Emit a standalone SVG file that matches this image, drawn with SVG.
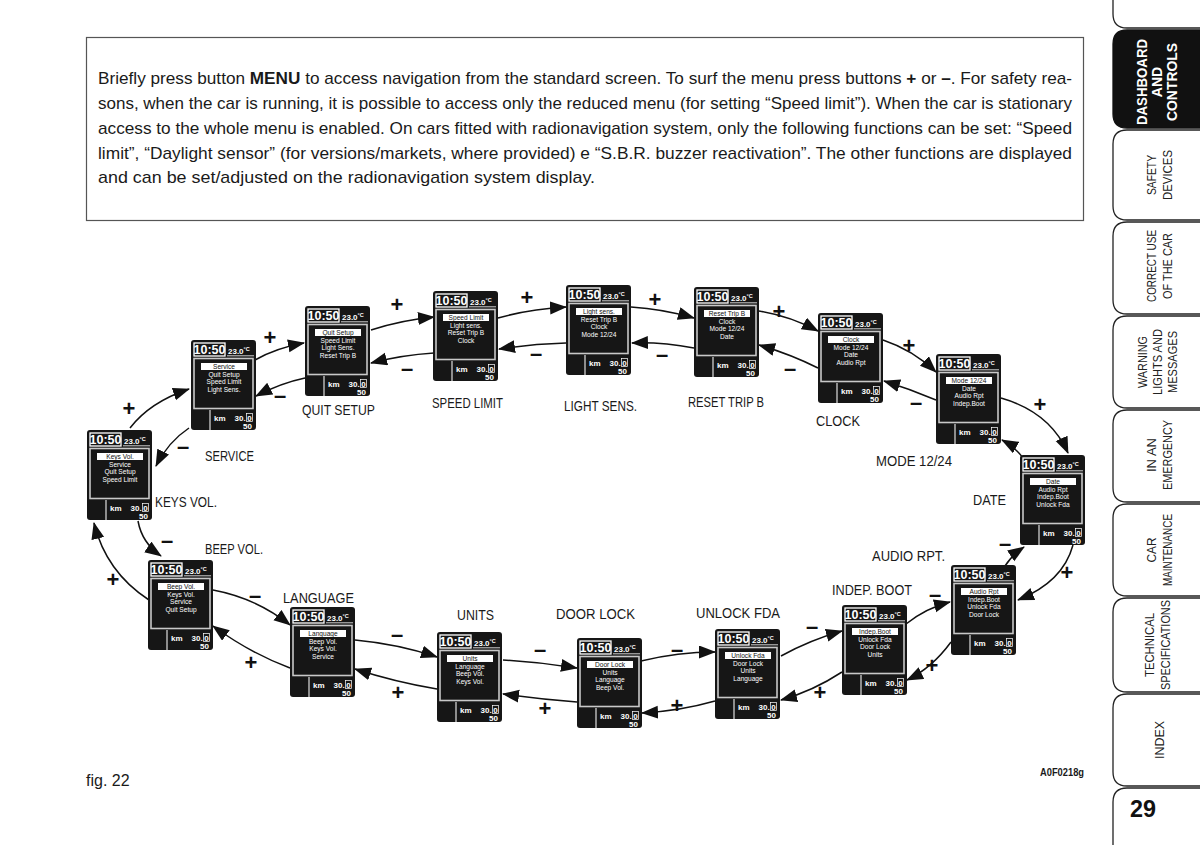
<svg xmlns="http://www.w3.org/2000/svg" xmlns:xlink="http://www.w3.org/1999/xlink" width="1200" height="845" viewBox="0 0 1200 845">
<style>
.para{font-family:"Liberation Sans",Arial,sans-serif;font-size:17px;fill:#1a1a1a}
.lbl{font-family:"Liberation Sans",Arial,sans-serif;font-size:15px;fill:#1a1a1a}
.pm{font-family:"Liberation Sans",Arial,sans-serif;font-size:22px;font-weight:bold;fill:#111;text-anchor:middle}
.clk{font-family:"Liberation Sans",Arial,sans-serif;font-size:12.5px;font-weight:bold;fill:#fff;text-anchor:middle}
.tmp{font-family:"Liberation Sans",Arial,sans-serif;font-size:8px;font-weight:bold;fill:#fff}
.km{font-family:"Liberation Sans",Arial,sans-serif;font-size:8px;font-weight:bold;fill:#fff}
.hl{font-family:"Liberation Sans",Arial,sans-serif;font-size:6.6px;fill:#111;text-anchor:middle}
.mi{font-family:"Liberation Sans",Arial,sans-serif;font-size:6.6px;fill:#fff;text-anchor:middle}
.tab{fill:#fff;stroke:#222;stroke-width:1.3}
.tabk{fill:#111;stroke:#111;stroke-width:1.3}
.tt{font-family:"Liberation Sans",Arial,sans-serif;font-size:13px;fill:#222;text-anchor:middle}
.ttb{font-family:"Liberation Sans",Arial,sans-serif;font-size:14px;font-weight:bold;fill:#fff;text-anchor:middle}
.conn path{fill:none;stroke:#111;stroke-width:1.5;marker-end:url(#ah)}
</style>
<defs>
<marker id="ah" markerUnits="userSpaceOnUse" markerWidth="18" markerHeight="14" refX="16" refY="6.5" orient="auto">
<path d="M0,0 L17,6.5 L0,13 Z" fill="#111"/>
</marker>
<g id="disp">
<rect width="65" height="90" rx="3" fill="#161616"/>
<rect x="3" y="3" width="31" height="13" fill="none" stroke="#fff" stroke-width="1.3"/>
<text class="clk" x="18.5" y="14.2">10:50</text>
<text class="tmp" x="37" y="13.5">23.0<tspan font-size="5.5" dy="-3">°C</tspan></text>
<line x1="36" y1="15.8" x2="63" y2="15.8" stroke="#fff" stroke-width="0.8"/>
<rect x="3" y="18.5" width="59" height="50" fill="#161616" stroke="#c8c8c8" stroke-width="1.6"/>
<rect x="10" y="23" width="46" height="7" fill="#fff"/>
<line x1="19" y1="70" x2="19" y2="90" stroke="#e0e0e0" stroke-width="1.2"/>
<text class="km" x="23" y="80.5">km</text>
<text class="km" x="43.5" y="80.5">30.</text>
<rect x="55.5" y="73.5" width="6" height="8" fill="none" stroke="#fff" stroke-width="0.7"/>
<text class="km" x="58.5" y="80.5" text-anchor="middle">0</text>
<text class="km" x="61" y="88.5" text-anchor="end">50</text>
</g>
</defs>

<rect width="1200" height="845" fill="#fff"/>

<g id="text-box">
<rect x="86.5" y="37.5" width="997" height="183" fill="none" stroke="#555" stroke-width="1.2"/>
<text class="para" x="98" y="84" textLength="974" lengthAdjust="spacingAndGlyphs">Briefly press button <tspan font-weight="bold">MENU</tspan> to access navigation from the standard screen. To surf the menu press buttons <tspan font-weight="bold">+</tspan> or <tspan font-weight="bold">–</tspan>. For safety rea-</text>
<text class="para" x="98" y="109" textLength="974" lengthAdjust="spacingAndGlyphs">sons, when the car is running, it is possible to access only the reduced menu (for setting “Speed limit”). When the car is stationary</text>
<text class="para" x="98" y="134" textLength="974" lengthAdjust="spacingAndGlyphs">access to the whole menu is enabled. On cars fitted with radionavigation system, only the following functions can be set: “Speed</text>
<text class="para" x="98" y="159" textLength="974" lengthAdjust="spacingAndGlyphs">limit”, “Daylight sensor” (for versions/markets, where provided) e “S.B.R. buzzer reactivation”. The other functions are displayed</text>
<text class="para" x="98" y="183" textLength="497" lengthAdjust="spacingAndGlyphs">and can be set/adjusted on the radionavigation system display.</text>
</g>

<g id="tabs">
<path class="tab" d="M1113,-2 V14 Q1113,28 1127,28 H1202"/>
<path class="tabk" d="M1202,30 H1127 Q1113,30 1113,44 V114 Q1113,128 1127,128 H1202 Z"/>
<text class="ttb" transform="translate(1147,82) rotate(-90)" textLength="86" lengthAdjust="spacingAndGlyphs">DASHBOARD</text>
<text class="ttb" transform="translate(1162,82) rotate(-90)">AND</text>
<text class="ttb" transform="translate(1177,82) rotate(-90)" textLength="78" lengthAdjust="spacingAndGlyphs">CONTROLS</text>
<path class="tab" d="M1202,130 H1127 Q1113,130 1113,144 V206 Q1113,220 1127,220 H1202"/>
<text class="tt" transform="translate(1156,175) rotate(-90)" textLength="40" lengthAdjust="spacingAndGlyphs">SAFETY</text>
<text class="tt" transform="translate(1172,175) rotate(-90)" textLength="50" lengthAdjust="spacingAndGlyphs">DEVICES</text>
<path class="tab" d="M1202,222 H1127 Q1113,222 1113,236 V300 Q1113,314 1127,314 H1202"/>
<text class="tt" transform="translate(1156,266) rotate(-90)" textLength="72" lengthAdjust="spacingAndGlyphs">CORRECT USE</text>
<text class="tt" transform="translate(1172,266) rotate(-90)" textLength="66" lengthAdjust="spacingAndGlyphs">OF THE CAR</text>
<path class="tab" d="M1202,316 H1127 Q1113,316 1113,330 V394 Q1113,408 1127,408 H1202"/>
<text class="tt" transform="translate(1147,362) rotate(-90)" textLength="52" lengthAdjust="spacingAndGlyphs">WARNING</text>
<text class="tt" transform="translate(1162,362) rotate(-90)" textLength="66" lengthAdjust="spacingAndGlyphs">LIGHTS AND</text>
<text class="tt" transform="translate(1177,362) rotate(-90)" textLength="62" lengthAdjust="spacingAndGlyphs">MESSAGES</text>
<path class="tab" d="M1202,410 H1127 Q1113,410 1113,424 V488 Q1113,502 1127,502 H1202"/>
<text class="tt" transform="translate(1156,455) rotate(-90)" textLength="34" lengthAdjust="spacingAndGlyphs">IN AN</text>
<text class="tt" transform="translate(1172,455) rotate(-90)" textLength="70" lengthAdjust="spacingAndGlyphs">EMERGENCY</text>
<path class="tab" d="M1202,504 H1127 Q1113,504 1113,518 V582 Q1113,596 1127,596 H1202"/>
<text class="tt" transform="translate(1156,550) rotate(-90)" textLength="25" lengthAdjust="spacingAndGlyphs">CAR</text>
<text class="tt" transform="translate(1172,550) rotate(-90)" textLength="72" lengthAdjust="spacingAndGlyphs">MAINTENANCE</text>
<path class="tab" d="M1202,598 H1127 Q1113,598 1113,612 V678 Q1113,692 1127,692 H1202"/>
<text class="tt" transform="translate(1154,645) rotate(-90)" textLength="64" lengthAdjust="spacingAndGlyphs">TECHNICAL</text>
<text class="tt" transform="translate(1170,645) rotate(-90)" textLength="90" lengthAdjust="spacingAndGlyphs">SPECIFICATIONS</text>
<path class="tab" d="M1202,694 H1127 Q1113,694 1113,708 V772 Q1113,786 1127,786 H1202"/>
<text class="tt" transform="translate(1164,740) rotate(-90)" textLength="38" lengthAdjust="spacingAndGlyphs">INDEX</text>
<path class="tab" d="M1202,788 H1127 Q1113,788 1113,802 V847"/>
<text x="1130" y="817" font-family="Liberation Sans, Arial, sans-serif" font-size="24" font-weight="bold" fill="#111" textLength="26" lengthAdjust="spacingAndGlyphs">29</text>
</g>

<g id="connectors" class="conn">
<path d="M130,428 Q150,402 189,389"/>
<path d="M189,428 Q168,442 156,466"/>
<path d="M138,521 Q142,543 161,556"/>
<path d="M149,600 Q106,572 94,523"/>
<path d="M255,360 Q276,348 304,343"/>
<path d="M305,378 Q281,383 256,396"/>
<path d="M371,330 Q402,320 434,317"/>
<path d="M434,353 Q402,355 371,363"/>
<path d="M498,318 Q530,309 566,307"/>
<path d="M566,343 Q532,344 499,349"/>
<path d="M631,307 Q663,309 694,318"/>
<path d="M694,348 Q662,342 632,343"/>
<path d="M759,311 Q790,316 818,331"/>
<path d="M818,368 Q790,354 759,345"/>
<path d="M883,340 Q913,350 936,372"/>
<path d="M936,400 Q910,389 884,381"/>
<path d="M1001,398 Q1050,412 1068,453"/>
<path d="M1023,458 Q1015,447 1002,440"/>
<path d="M1073,545 Q1063,582 1018,600"/>
<path d="M1005,566 Q1012,555 1024,547"/>
<path d="M951,642 Q932,668 907,680"/>
<path d="M906,624 Q926,608 950,602"/>
<path d="M842,672 Q813,691 781,700"/>
<path d="M781,656 Q810,640 842,631"/>
<path d="M715,701 Q680,711 642,713"/>
<path d="M641,661 Q678,652 715,652"/>
<path d="M577,702 Q540,699 503,694"/>
<path d="M503,660 Q540,662 577,668"/>
<path d="M437,689 Q395,682 355,669"/>
<path d="M355,640 Q398,644 437,657"/>
<path d="M290,668 Q250,653 213,626"/>
<path d="M213,590 Q256,598 290,625"/>
</g>

<g id="signs">
<text class="pm" x="129" y="416">+</text>
<text class="pm" x="183" y="454">–</text>
<text class="pm" x="167" y="548">–</text>
<text class="pm" x="113" y="587">+</text>
<text class="pm" x="270" y="345">+</text>
<text class="pm" x="280" y="403">–</text>
<text class="pm" x="397" y="312">+</text>
<text class="pm" x="407" y="376">–</text>
<text class="pm" x="527" y="305">+</text>
<text class="pm" x="536" y="361">–</text>
<text class="pm" x="655" y="307">+</text>
<text class="pm" x="662" y="362">–</text>
<text class="pm" x="779" y="319">+</text>
<text class="pm" x="790" y="376">–</text>
<text class="pm" x="909" y="353">+</text>
<text class="pm" x="916" y="410">–</text>
<text class="pm" x="1040" y="412">+</text>
<text class="pm" x="1005" y="551">–</text>
<text class="pm" x="1067" y="580">+</text>
<text class="pm" x="935" y="602">–</text>
<text class="pm" x="932" y="673">+</text>
<text class="pm" x="812" y="634">–</text>
<text class="pm" x="820" y="700">+</text>
<text class="pm" x="677" y="657">–</text>
<text class="pm" x="677" y="713">+</text>
<text class="pm" x="540" y="657">–</text>
<text class="pm" x="545" y="716">+</text>
<text class="pm" x="397" y="642">–</text>
<text class="pm" x="398" y="700">+</text>
<text class="pm" x="255" y="603">–</text>
<text class="pm" x="251" y="670">+</text>
</g>

<g id="node-keys-vol">
<g transform="translate(87,430)"><use href="#disp"/>
<text class="hl" x="33" y="28.5">Keys Vol.</text><text class="mi" x="33" y="36.5">Service</text><text class="mi" x="33" y="44">Quit Setup</text><text class="mi" x="33" y="51.5">Speed Limit</text></g>
<text class="lbl" x="155" y="507" textLength="62" lengthAdjust="spacingAndGlyphs">KEYS VOL.</text>
</g>
<g id="node-service">
<g transform="translate(191,340)"><use href="#disp"/>
<text class="hl" x="33" y="28.5">Service</text><text class="mi" x="33" y="36.5">Quit Setup</text><text class="mi" x="33" y="44">Speed Limit</text><text class="mi" x="33" y="51.5">Light Sens.</text></g>
<text class="lbl" x="205" y="461" textLength="49" lengthAdjust="spacingAndGlyphs">SERVICE</text>
</g>
<g id="node-quit-setup">
<g transform="translate(305,306)"><use href="#disp"/>
<text class="hl" x="33" y="28.5">Quit Setup</text><text class="mi" x="33" y="36.5">Speed Limit</text><text class="mi" x="33" y="44">Light Sens.</text><text class="mi" x="33" y="51.5">Reset Trip B</text></g>
<text class="lbl" x="302" y="415" textLength="73" lengthAdjust="spacingAndGlyphs">QUIT SETUP</text>
</g>
<g id="node-speed-limit">
<g transform="translate(433,291)"><use href="#disp"/>
<text class="hl" x="33" y="28.5">Speed Limit</text><text class="mi" x="33" y="36.5">Light sens.</text><text class="mi" x="33" y="44">Reset Trip B</text><text class="mi" x="33" y="51.5">Clock</text></g>
<text class="lbl" x="432" y="408" textLength="71" lengthAdjust="spacingAndGlyphs">SPEED LIMIT</text>
</g>
<g id="node-light-sens">
<g transform="translate(566,285)"><use href="#disp"/>
<text class="hl" x="33" y="28.5">Light sens.</text><text class="mi" x="33" y="36.5">Reset Trip B</text><text class="mi" x="33" y="44">Clock</text><text class="mi" x="33" y="51.5">Mode 12/24</text></g>
<text class="lbl" x="564" y="411" textLength="73" lengthAdjust="spacingAndGlyphs">LIGHT SENS.</text>
</g>
<g id="node-reset-trip-b">
<g transform="translate(694,287)"><use href="#disp"/>
<text class="hl" x="33" y="28.5">Reset Trip B</text><text class="mi" x="33" y="36.5">Clock</text><text class="mi" x="33" y="44">Mode 12/24</text><text class="mi" x="33" y="51.5">Date</text></g>
<text class="lbl" x="688" y="407" textLength="76" lengthAdjust="spacingAndGlyphs">RESET TRIP B</text>
</g>
<g id="node-clock">
<g transform="translate(818,313)"><use href="#disp"/>
<text class="hl" x="33" y="28.5">Clock</text><text class="mi" x="33" y="36.5">Mode 12/24</text><text class="mi" x="33" y="44">Date</text><text class="mi" x="33" y="51.5">Audio Rpt</text></g>
<text class="lbl" x="816" y="426" textLength="44" lengthAdjust="spacingAndGlyphs">CLOCK</text>
</g>
<g id="node-mode-12-24">
<g transform="translate(936,354)"><use href="#disp"/>
<text class="hl" x="33" y="28.5">Mode 12/24</text><text class="mi" x="33" y="36.5">Date</text><text class="mi" x="33" y="44">Audio Rpt</text><text class="mi" x="33" y="51.5">Indep.Boot</text></g>
<text class="lbl" x="876" y="466" textLength="76" lengthAdjust="spacingAndGlyphs">MODE 12/24</text>
</g>
<g id="node-date">
<g transform="translate(1020,455)"><use href="#disp"/>
<text class="hl" x="33" y="28.5">Date</text><text class="mi" x="33" y="36.5">Audio Rpt</text><text class="mi" x="33" y="44">Indep.Boot</text><text class="mi" x="33" y="51.5">Unlock Fda</text></g>
<text class="lbl" x="973" y="505" textLength="33" lengthAdjust="spacingAndGlyphs">DATE</text>
</g>
<g id="node-audio-rpt">
<g transform="translate(951,565)"><use href="#disp"/>
<text class="hl" x="33" y="28.5">Audio Rpt</text><text class="mi" x="33" y="36.5">Indep.Boot</text><text class="mi" x="33" y="44">Unlock Fda</text><text class="mi" x="33" y="51.5">Door Lock</text></g>
<text class="lbl" x="872" y="561" textLength="73" lengthAdjust="spacingAndGlyphs">AUDIO RPT.</text>
</g>
<g id="node-indep-boot">
<g transform="translate(842,605)"><use href="#disp"/>
<text class="hl" x="33" y="28.5">Indep.Boot</text><text class="mi" x="33" y="36.5">Unlock Fda</text><text class="mi" x="33" y="44">Door Lock</text><text class="mi" x="33" y="51.5">Units</text></g>
<text class="lbl" x="832" y="595" font-size="14" textLength="80" lengthAdjust="spacingAndGlyphs">INDEP. BOOT</text>
</g>
<g id="node-unlock-fda">
<g transform="translate(715,629)"><use href="#disp"/>
<text class="hl" x="33" y="28.5">Unlock Fda</text><text class="mi" x="33" y="36.5">Door Lock</text><text class="mi" x="33" y="44">Units</text><text class="mi" x="33" y="51.5">Language</text></g>
<text class="lbl" x="696" y="618" textLength="84" lengthAdjust="spacingAndGlyphs">UNLOCK FDA</text>
</g>
<g id="node-door-lock">
<g transform="translate(577,638)"><use href="#disp"/>
<text class="hl" x="33" y="28.5">Door Lock</text><text class="mi" x="33" y="36.5">Units</text><text class="mi" x="33" y="44">Language</text><text class="mi" x="33" y="51.5">Beep Vol.</text></g>
<text class="lbl" x="556" y="619" textLength="79" lengthAdjust="spacingAndGlyphs">DOOR LOCK</text>
</g>
<g id="node-units">
<g transform="translate(437,632)"><use href="#disp"/>
<text class="hl" x="33" y="28.5">Units</text><text class="mi" x="33" y="36.5">Language</text><text class="mi" x="33" y="44">Beep Vol.</text><text class="mi" x="33" y="51.5">Keys Vol.</text></g>
<text class="lbl" x="457" y="620" textLength="37" lengthAdjust="spacingAndGlyphs">UNITS</text>
</g>
<g id="node-language">
<g transform="translate(290,607)"><use href="#disp"/>
<text class="hl" x="33" y="28.5">Language</text><text class="mi" x="33" y="36.5">Beep Vol.</text><text class="mi" x="33" y="44">Keys Vol.</text><text class="mi" x="33" y="51.5">Service</text></g>
<text class="lbl" x="283" y="603" textLength="71" lengthAdjust="spacingAndGlyphs">LANGUAGE</text>
</g>
<g id="node-beep-vol">
<g transform="translate(148,560)"><use href="#disp"/>
<text class="hl" x="33" y="28.5">Beep Vol.</text><text class="mi" x="33" y="36.5">Keys Vol.</text><text class="mi" x="33" y="44">Service</text><text class="mi" x="33" y="51.5">Quit Setup</text></g>
<text class="lbl" x="205" y="554" textLength="58" lengthAdjust="spacingAndGlyphs">BEEP VOL.</text>
</g>

<text x="86" y="786" font-family="Liberation Sans, Arial, sans-serif" font-size="16" fill="#1a1a1a">fig. 22</text>
<text x="1040" y="776" font-family="Liberation Sans, Arial, sans-serif" font-size="10" font-weight="bold" fill="#1a1a1a" textLength="44" lengthAdjust="spacingAndGlyphs">A0F0218g</text>
</svg>
